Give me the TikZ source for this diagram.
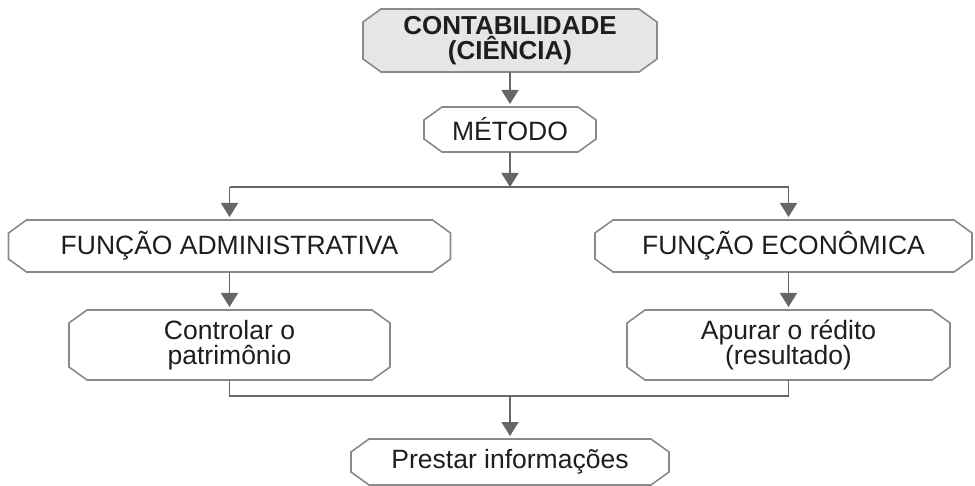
\documentclass[tikz,border=0pt]{standalone}
\usepackage{fontspec}
\setmainfont{Liberation Sans}
\usepackage{tikz}
\usetikzlibrary{arrows.meta, positioning}
\definecolor{borda}{HTML}{8A8A8A}
\definecolor{cinzaseta}{HTML}{666666}
\definecolor{fundo}{HTML}{E6E6E6}
\definecolor{texto}{HTML}{1E1E1E}

% caixa com cantos cortados
\newdimen\octL \newdimen\octR \newdimen\octB \newdimen\octT
\def\octcx{18pt}
\def\octcy{13pt}
\makeatletter
\pgfdeclareshape{octogono}{
	\inheritsavedanchors[from=rectangle]
	\inheritanchorborder[from=rectangle]
	\inheritanchor[from=rectangle]{center}
	\inheritanchor[from=rectangle]{text}
	\inheritanchor[from=rectangle]{base}
	\inheritanchor[from=rectangle]{north}
	\inheritanchor[from=rectangle]{south}
	\inheritanchor[from=rectangle]{east}
	\inheritanchor[from=rectangle]{west}
	\inheritanchor[from=rectangle]{north west}
	\inheritanchor[from=rectangle]{north east}
	\inheritanchor[from=rectangle]{south west}
	\inheritanchor[from=rectangle]{south east}
	\backgroundpath{
		\southwest \octL=\pgf@x \octB=\pgf@y
		\northeast \octR=\pgf@x \octT=\pgf@y
		\pgfpathmoveto{\pgfqpoint{\octL}{\dimexpr\octB+\octcy}}
		\pgfpathlineto{\pgfqpoint{\octL}{\dimexpr\octT-\octcy}}
		\pgfpathlineto{\pgfqpoint{\dimexpr\octL+\octcx}{\octT}}
		\pgfpathlineto{\pgfqpoint{\dimexpr\octR-\octcx}{\octT}}
		\pgfpathlineto{\pgfqpoint{\octR}{\dimexpr\octT-\octcy}}
		\pgfpathlineto{\pgfqpoint{\octR}{\dimexpr\octB+\octcy}}
		\pgfpathlineto{\pgfqpoint{\dimexpr\octR-\octcx}{\octB}}
		\pgfpathlineto{\pgfqpoint{\dimexpr\octL+\octcx}{\octB}}
		\pgfpathclose
	}
}
\makeatother

\tikzset{
	caixa/.style={octogono, draw=borda, line width=1.6pt, text=texto, align=center,
		inner sep=0pt, outer sep=0pt, font=\fontsize{26.5}{25.5}\selectfont},
	fluxo/.style={draw=cinzaseta, line width=1.6pt},
	flecha/.style={fluxo, -{Triangle[width=17pt,length=14pt]}, shorten >=3pt}
}

\begin{document}
\begin{tikzpicture}[x=1pt,y=-1pt]
				\useasboundingbox (0,0) rectangle (975,486);
				\node[caixa, fill=fundo, font=\bfseries\fontsize{26}{25.5}\selectfont, minimum width=294pt, minimum height=63pt] (ciencia) at (510,40.5) {CONTABILIDADE\\(CIÊNCIA)};
				\node[caixa, minimum width=172pt, minimum height=45pt] (metodo) at (510,129.5) {MÉTODO};
				\node[caixa, minimum width=442pt, minimum height=52pt] (admin) at (229.5,246) {FUNÇÃO ADMINISTRATIVA};
				\node[caixa, minimum width=377pt, minimum height=52pt] (econ) at (783.5,246) {FUNÇÃO ECONÔMICA};
				\node[caixa, minimum width=321pt, minimum height=70pt] (controlar) at (229.5,345) {Controlar o\\patrimônio};
				\node[caixa, minimum width=323pt, minimum height=70pt] (apurar) at (788.5,345) {Apurar o rédito\\(resultado)};
				\node[caixa, minimum width=318pt, minimum height=46pt] (prestar) at (510,462) {Prestar informações};
				% ligacoes
				\coordinate (divisao) at (510,187);
				\coordinate (ramoA) at (229.5,187);
				\coordinate (ramoE) at (788.5,187);
				\coordinate (juncao) at (510,396);
				\draw[flecha] (ciencia) -- (metodo);
				\draw[flecha, shorten >=0pt] (metodo) -- (divisao);
				\draw[fluxo] (ramoA) -- (ramoE);
				\draw[flecha] (ramoA) -- (ramoA |- admin.north);
				\draw[flecha] (ramoE) -- (ramoE |- econ.north);
				\draw[flecha] (admin) -- (controlar);
				\draw[flecha] (econ.south -| apurar.north) -- (apurar.north);
				\draw[fluxo] (controlar.south) |- (juncao) -| (apurar.south);
				\draw[flecha] (juncao) -- (prestar);
			\end{tikzpicture}
\end{document}
